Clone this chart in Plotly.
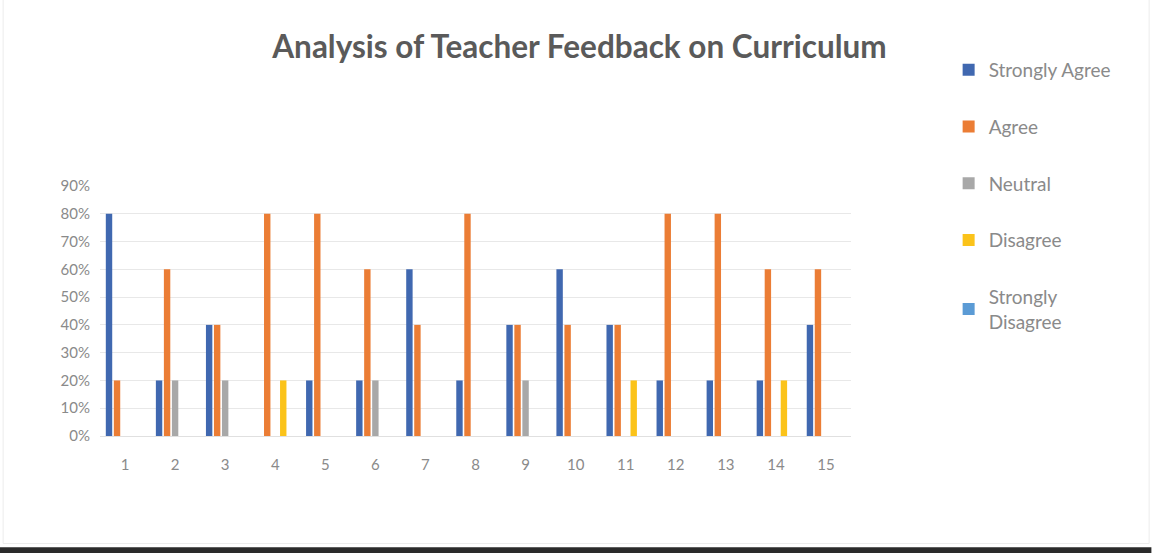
import plotly.graph_objects as go

categories = [str(i) for i in range(1, 16)]
strongly_agree = [0.8, 0.2, 0.4, 0.0, 0.2, 0.2, 0.6, 0.2, 0.4, 0.6, 0.4, 0.2, 0.2, 0.2, 0.4]
agree = [0.2, 0.6, 0.4, 0.8, 0.8, 0.6, 0.4, 0.8, 0.4, 0.4, 0.4, 0.8, 0.8, 0.6, 0.6]
neutral = [0.0, 0.2, 0.2, 0.0, 0.0, 0.2, 0.0, 0.0, 0.2, 0.0, 0.0, 0.0, 0.0, 0.0, 0.0]
disagree = [0.0, 0.0, 0.0, 0.2, 0.0, 0.0, 0.0, 0.0, 0.0, 0.0, 0.2, 0.0, 0.0, 0.2, 0.0]
strongly_disagree = [0.0] * 15

series = [
    ("Strongly Agree", strongly_agree, "#4068B0"),
    ("Agree", agree, "#EB7D35"),
    ("Neutral", neutral, "#A8A8A8"),
    ("Disagree", disagree, "#FBC31A"),
    ("Strongly<br>Disagree", strongly_disagree, "#5B9BD5"),
]

fig = go.Figure()
for i, (name, vals, color) in enumerate(series):
    fig.add_trace(go.Bar(x=categories, y=vals, name=name, marker_color=color,
                         marker_line_width=0, legendgroup=f"g{i}"))

fig.update_layout(
    width=1152, height=553,
    paper_bgcolor="white", plot_bgcolor="white",
    barmode="group", bargap=0.2, bargroupgap=0.2,
    margin=dict(l=100, r=301, t=186, b=117),
    font=dict(family="Lato", color="#8a8a8a"),
    title=dict(text="Analysis of Teacher Feedback on Curriculum", x=0.503, xref="container",
               y=0.915, yref="container", xanchor="center", yanchor="middle",
               font=dict(family="Lato", size=31.5, color="#5a5a5a", weight="bold")),
    legend=dict(x=1.13, xanchor="left", y=1.54, yanchor="top", tracegroupgap=29,
                font=dict(family="Lato", size=19, color="#8a8a8a"), maxheight=0.9,
                itemwidth=30, bgcolor="rgba(0,0,0,0)"),
    showlegend=True,
)
fig.update_xaxes(showgrid=False, showline=True, linecolor="#e0e0e0", ticks="",
                 ticklabelstandoff=15, tickfont=dict(size=15, color="#8a8a8a"))
fig.update_yaxes(range=[0, 0.9], dtick=0.1, tickformat=".0%", showgrid=True,
                 gridcolor="#e8e8e8", zeroline=False, ticklabelstandoff=9,
                 tickfont=dict(size=15, color="#8a8a8a"))

fig.add_shape(type="rect", xref="paper", yref="paper", x0=-0.129, x1=1.397, y0=-0.43, y1=2.37,
              line=dict(color="#ececec", width=1), fillcolor="rgba(0,0,0,0)", layer="below")
fig.add_shape(type="rect", xref="paper", yref="paper", x0=-0.15, x1=1.4, y0=-0.47, y1=-0.445,
              line=dict(width=0), fillcolor="#2a2a2a", layer="above")

fig.write_html("out.html", config={"displayModeBar": False},
               post_script="document.body.style.margin='0';document.body.style.padding='0';")
